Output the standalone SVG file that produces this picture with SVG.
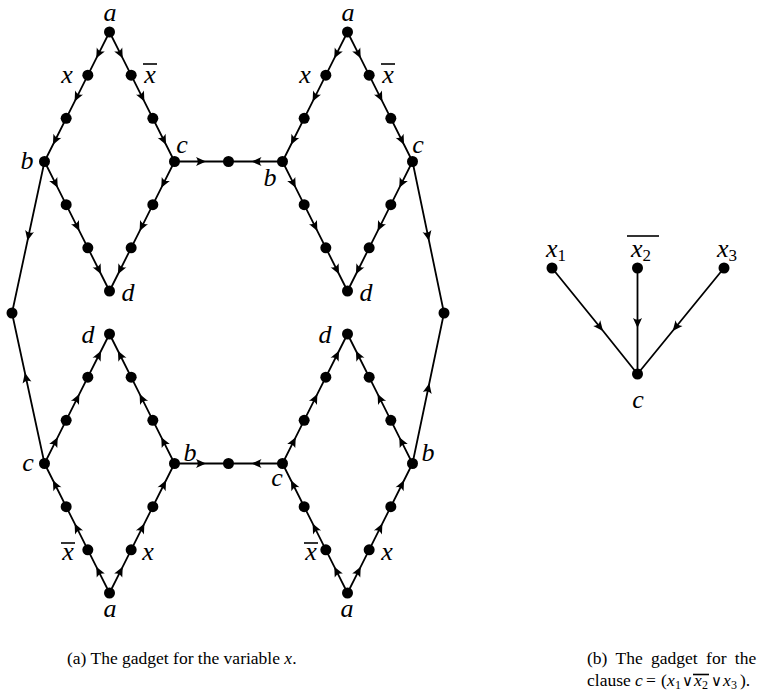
<svg xmlns="http://www.w3.org/2000/svg" width="761" height="692" viewBox="0 0 761 692">
<style>
.e{fill:none;stroke:#000;stroke-width:1.8;marker-mid:url(#ah)}
.n{fill:#000}
.m{font-family:"Liberation Serif","Times New Roman",serif;font-style:italic;font-size:26px;fill:#000}
.s{font-family:"Liberation Serif","Times New Roman",serif;font-style:normal;font-size:17px;fill:#000}
.cap{font-family:"Liberation Serif","Times New Roman",serif;font-size:17.5px;fill:#000}
.or{font-family:"DejaVu Serif","Liberation Serif",serif;font-size:15px}
.bar{stroke:#000;stroke-width:1.6}
</style>
<defs>
<marker id="ah" viewBox="-11 -6 12 12" refX="0" refY="0" markerWidth="12" markerHeight="12" markerUnits="userSpaceOnUse" orient="auto"><path d="M0.5,0 L-9.5,-4.5 Q-6,0 -9.5,4.5 Z" fill="#000"/></marker>
</defs>
<rect width="761" height="692" fill="#fff"/>
<g id="connectors">
<path class="e" d="M109.5,32 L96.5,57.9 L74.833,101.067 L53.167,144.233 L44.5,161.5"/>
<path class="e" d="M109.5,32 L122.5,57.9 L144.167,101.067 L165.833,144.233 L174.5,161.5"/>
<path class="e" d="M44.5,161.5 L57.5,187.4 L79.167,230.567 L100.833,273.733 L109.5,291"/>
<path class="e" d="M174.5,161.5 L161.5,187.4 L139.833,230.567 L118.167,273.733 L109.5,291"/>
<path class="e" d="M347.5,32 L334.5,57.9 L312.833,101.067 L291.167,144.233 L282.5,161.5"/>
<path class="e" d="M347.5,32 L360.5,57.9 L382.167,101.067 L403.833,144.233 L412.5,161.5"/>
<path class="e" d="M282.5,161.5 L295.5,187.4 L317.167,230.567 L338.833,273.733 L347.5,291"/>
<path class="e" d="M412.5,161.5 L399.5,187.4 L377.833,230.567 L356.167,273.733 L347.5,291"/>
<path class="e" d="M109.5,593 L96.5,567.1 L74.833,523.933 L53.167,480.767 L44.5,463.5"/>
<path class="e" d="M109.5,593 L122.5,567.1 L144.167,523.933 L165.833,480.767 L174.5,463.5"/>
<path class="e" d="M44.5,463.5 L57.5,437.6 L79.167,394.433 L100.833,351.267 L109.5,334"/>
<path class="e" d="M174.5,463.5 L161.5,437.6 L139.833,394.433 L118.167,351.267 L109.5,334"/>
<path class="e" d="M347.5,593 L334.5,567.1 L312.833,523.933 L291.167,480.767 L282.5,463.5"/>
<path class="e" d="M347.5,593 L360.5,567.1 L382.167,523.933 L403.833,480.767 L412.5,463.5"/>
<path class="e" d="M282.5,463.5 L295.5,437.6 L317.167,394.433 L338.833,351.267 L347.5,334"/>
<path class="e" d="M412.5,463.5 L399.5,437.6 L377.833,394.433 L356.167,351.267 L347.5,334"/>
<path class="e" d="M174.5,161.5 L205.5,161.5 L228.5,161.5"/>
<path class="e" d="M282.5,161.5 L252,161.5 L228.5,161.5"/>
<path class="e" d="M174.5,463.5 L205.5,463.5 L228.5,463.5"/>
<path class="e" d="M282.5,463.5 L252,463.5 L228.5,463.5"/>
<path class="e" d="M44.5,161.5 L27.6,240.3 L12,313"/>
<path class="e" d="M44.5,463.5 L25,373.2 L12,313"/>
<path class="e" d="M412.5,161.5 L428.9,240.3 L444,313"/>
<path class="e" d="M412.5,463.5 L429.2,383.7 L444,313"/>
<path class="e" d="M552,268 L602.7,330.5 L637.5,374"/>
<path class="e" d="M637.5,268 L637.5,327.4 L637.5,374"/>
<path class="e" d="M724,268 L673,330.5 L637.5,374"/>
</g>
<g id="tl-a"><circle class="n" cx="109.5" cy="32" r="5.5"/></g>
<g id="tl-x"><circle class="n" cx="87.833" cy="75.167" r="5.5"/></g>
<g id="tl-x2"><circle class="n" cx="66.167" cy="118.333" r="5.5"/></g>
<g id="tl-xb"><circle class="n" cx="131.167" cy="75.167" r="5.5"/></g>
<g id="tl-xb2"><circle class="n" cx="152.833" cy="118.333" r="5.5"/></g>
<g id="tl-b"><circle class="n" cx="44.5" cy="161.5" r="5.5"/></g>
<g id="tl-c"><circle class="n" cx="174.5" cy="161.5" r="5.5"/></g>
<g id="tl-bd1"><circle class="n" cx="66.167" cy="204.667" r="5.5"/></g>
<g id="tl-bd2"><circle class="n" cx="87.833" cy="247.833" r="5.5"/></g>
<g id="tl-cd1"><circle class="n" cx="152.833" cy="204.667" r="5.5"/></g>
<g id="tl-cd2"><circle class="n" cx="131.167" cy="247.833" r="5.5"/></g>
<g id="tl-d"><circle class="n" cx="109.5" cy="291" r="5.5"/></g>
<g id="tr-a"><circle class="n" cx="347.5" cy="32" r="5.5"/></g>
<g id="tr-x"><circle class="n" cx="325.833" cy="75.167" r="5.5"/></g>
<g id="tr-x2"><circle class="n" cx="304.167" cy="118.333" r="5.5"/></g>
<g id="tr-xb"><circle class="n" cx="369.167" cy="75.167" r="5.5"/></g>
<g id="tr-xb2"><circle class="n" cx="390.833" cy="118.333" r="5.5"/></g>
<g id="tr-b"><circle class="n" cx="282.5" cy="161.5" r="5.5"/></g>
<g id="tr-c"><circle class="n" cx="412.5" cy="161.5" r="5.5"/></g>
<g id="tr-bd1"><circle class="n" cx="304.167" cy="204.667" r="5.5"/></g>
<g id="tr-bd2"><circle class="n" cx="325.833" cy="247.833" r="5.5"/></g>
<g id="tr-cd1"><circle class="n" cx="390.833" cy="204.667" r="5.5"/></g>
<g id="tr-cd2"><circle class="n" cx="369.167" cy="247.833" r="5.5"/></g>
<g id="tr-d"><circle class="n" cx="347.5" cy="291" r="5.5"/></g>
<g id="bl-a"><circle class="n" cx="109.5" cy="593" r="5.5"/></g>
<g id="bl-xb"><circle class="n" cx="87.833" cy="549.833" r="5.5"/></g>
<g id="bl-xb2"><circle class="n" cx="66.167" cy="506.667" r="5.5"/></g>
<g id="bl-x"><circle class="n" cx="131.167" cy="549.833" r="5.5"/></g>
<g id="bl-x2"><circle class="n" cx="152.833" cy="506.667" r="5.5"/></g>
<g id="bl-c"><circle class="n" cx="44.5" cy="463.5" r="5.5"/></g>
<g id="bl-b"><circle class="n" cx="174.5" cy="463.5" r="5.5"/></g>
<g id="bl-cd1"><circle class="n" cx="66.167" cy="420.333" r="5.5"/></g>
<g id="bl-cd2"><circle class="n" cx="87.833" cy="377.167" r="5.5"/></g>
<g id="bl-bd1"><circle class="n" cx="152.833" cy="420.333" r="5.5"/></g>
<g id="bl-bd2"><circle class="n" cx="131.167" cy="377.167" r="5.5"/></g>
<g id="bl-d"><circle class="n" cx="109.5" cy="334" r="5.5"/></g>
<g id="br-a"><circle class="n" cx="347.5" cy="593" r="5.5"/></g>
<g id="br-xb"><circle class="n" cx="325.833" cy="549.833" r="5.5"/></g>
<g id="br-xb2"><circle class="n" cx="304.167" cy="506.667" r="5.5"/></g>
<g id="br-x"><circle class="n" cx="369.167" cy="549.833" r="5.5"/></g>
<g id="br-x2"><circle class="n" cx="390.833" cy="506.667" r="5.5"/></g>
<g id="br-c"><circle class="n" cx="282.5" cy="463.5" r="5.5"/></g>
<g id="br-b"><circle class="n" cx="412.5" cy="463.5" r="5.5"/></g>
<g id="br-cd1"><circle class="n" cx="304.167" cy="420.333" r="5.5"/></g>
<g id="br-cd2"><circle class="n" cx="325.833" cy="377.167" r="5.5"/></g>
<g id="br-bd1"><circle class="n" cx="390.833" cy="420.333" r="5.5"/></g>
<g id="br-bd2"><circle class="n" cx="369.167" cy="377.167" r="5.5"/></g>
<g id="br-d"><circle class="n" cx="347.5" cy="334" r="5.5"/></g>
<g id="mid-top"><circle class="n" cx="228.5" cy="161.5" r="5.5"/></g>
<g id="mid-bottom"><circle class="n" cx="228.5" cy="463.5" r="5.5"/></g>
<g id="outer-left"><circle class="n" cx="12" cy="313" r="5.5"/></g>
<g id="outer-right"><circle class="n" cx="444" cy="313" r="5.5"/></g>
<g id="cl-x1"><circle class="n" cx="552" cy="268" r="5.5"/></g>
<g id="cl-x2"><circle class="n" cx="637.5" cy="268" r="5.5"/></g>
<g id="cl-x3"><circle class="n" cx="724" cy="268" r="5.5"/></g>
<g id="cl-c"><circle class="n" cx="637.5" cy="374" r="5.5"/></g>
<g id="labels" text-anchor="middle">
<text class="m" x="110" y="21">a</text>
<text class="m" x="67" y="83">x</text>
<text class="m" x="150" y="83">x</text>
<line class="bar" x1="143" y1="64" x2="157" y2="64"/>
<text class="m" x="27" y="169">b</text>
<text class="m" x="182" y="153">c</text>
<text class="m" x="128" y="301">d</text>
<text class="m" x="348" y="21">a</text>
<text class="m" x="305" y="83">x</text>
<text class="m" x="388" y="83">x</text>
<line class="bar" x1="381" y1="64" x2="395" y2="64"/>
<text class="m" x="418" y="153">c</text>
<text class="m" x="270" y="186">b</text>
<text class="m" x="366" y="301">d</text>
<text class="m" x="88" y="343">d</text>
<text class="m" x="28" y="471">c</text>
<text class="m" x="190" y="461">b</text>
<text class="m" x="68" y="560">x</text>
<line class="bar" x1="61" y1="543" x2="75" y2="543"/>
<text class="m" x="148" y="560">x</text>
<text class="m" x="110" y="617">a</text>
<text class="m" x="325" y="343">d</text>
<text class="m" x="277" y="486">c</text>
<text class="m" x="428" y="461">b</text>
<text class="m" x="311" y="560">x</text>
<line class="bar" x1="304" y1="543" x2="318" y2="543"/>
<text class="m" x="387" y="560">x</text>
<text class="m" x="347" y="617">a</text>
<text class="m" x="556" y="257">x<tspan class="s" dy="4">1</tspan></text>
<text class="m" x="641" y="257">x<tspan class="s" dy="4">2</tspan></text>
<line class="bar" x1="627" y1="236" x2="659" y2="236"/>
<text class="m" x="727" y="257">x<tspan class="s" dy="4">3</tspan></text>
<text class="m" x="638" y="408">c</text>
</g>
<g id="captions">
<text class="cap" x="67" y="664">(a) The gadget for the variable <tspan font-style="italic">x</tspan>.</text>
<text class="cap" x="587" y="664" word-spacing="4">(b) The gadget for the</text>
<text class="cap" y="686"><tspan x="587">clause</tspan><tspan x="635" font-style="italic">c</tspan><tspan x="646">=</tspan><tspan x="661">(</tspan><tspan x="667" font-style="italic">x</tspan><tspan x="675" font-size="12" dy="3">1</tspan><tspan x="682" dy="-3" class="or">∨</tspan><tspan x="694" font-style="italic">x</tspan><tspan x="702" font-size="12" dy="3">2</tspan><tspan x="711" dy="-3" class="or">∨</tspan><tspan x="723" font-style="italic">x</tspan><tspan x="731" font-size="12" dy="3">3</tspan><tspan x="740" dy="-3">).</tspan></text>
<line class="bar" x1="693" y1="674.5" x2="709" y2="674.5" stroke-width="1.3"/>
</g>
</svg>
